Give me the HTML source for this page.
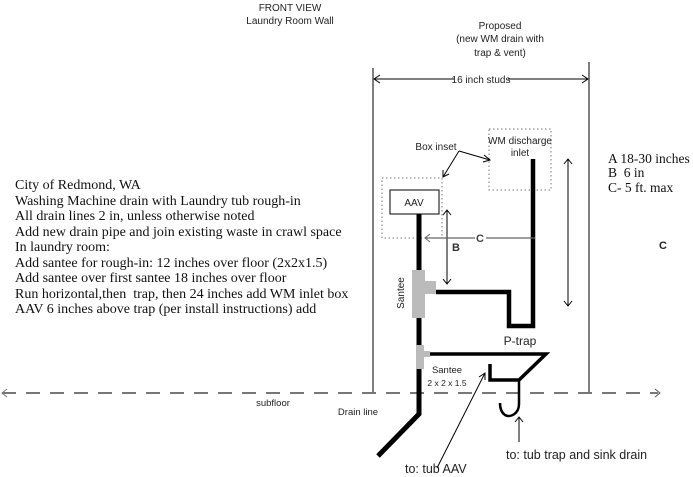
<!DOCTYPE html>
<html><head><meta charset="utf-8"><style>
html,body{margin:0;padding:0;background:#fff;}
svg{display:block;}
.s{font-family:"Liberation Sans",sans-serif;}
.r{font-family:"Liberation Serif",serif;}
</style></head><body>
<svg width="693" height="477" viewBox="0 0 693 477" xmlns="http://www.w3.org/2000/svg">
<!-- header text -->
<g class="s" font-size="10" fill="#222" text-anchor="middle">
<text x="290" y="11">FRONT VIEW</text>
<text x="290" y="24">Laundry Room Wall</text>
<text x="500" y="29">Proposed</text>
<text x="500" y="42">(new WM drain with</text>
<text x="500" y="56">trap &amp; vent)</text>
</g>
<!-- studs -->
<line x1="373" y1="68" x2="373" y2="393" stroke="#555" stroke-width="1.5"/>
<line x1="589" y1="62" x2="589" y2="393" stroke="#555" stroke-width="1.5"/>
<!-- 16 inch arrow -->
<line x1="374" y1="79" x2="588" y2="79" stroke="#000" stroke-width="1"/>
<polyline points="380,75 374,79 380,83" fill="none" stroke="#000" stroke-width="1"/>
<polyline points="582,75 588,79 582,83" fill="none" stroke="#000" stroke-width="1"/>
<rect x="454" y="72" width="54" height="13" fill="#fff"/>
<text x="481" y="83" class="s" font-size="10" fill="#222" text-anchor="middle">16 inch studs</text>
<!-- subfloor dashed -->
<line x1="2" y1="393" x2="658" y2="393" stroke="#777" stroke-width="2" stroke-dasharray="14 10"/>
<polyline points="7,389 2,393 7,397" fill="none" stroke="#777" stroke-width="1"/>
<polyline points="655,389 660,393 655,397" fill="none" stroke="#555" stroke-width="1"/>
<!-- dotted boxes -->
<rect x="382" y="178" width="60" height="60" fill="none" stroke="#777" stroke-width="1" stroke-dasharray="1.5 2.5"/>
<rect x="489" y="129" width="62" height="61" fill="none" stroke="#777" stroke-width="1" stroke-dasharray="1.5 2.5"/>
<!-- box inset label and arrows -->
<text x="436" y="150" class="s" font-size="10" fill="#222" text-anchor="middle">Box inset</text>
<line x1="459" y1="151" x2="490" y2="160" stroke="#000" stroke-width="1"/>
<polyline points="484,155 490,160 483,162" fill="none" stroke="#000" stroke-width="1"/>
<line x1="459" y1="151" x2="443" y2="177" stroke="#000" stroke-width="1"/>
<polyline points="443,170 443,177 449,174" fill="none" stroke="#000" stroke-width="1"/>
<text x="520" y="144" class="s" font-size="10" fill="#222" text-anchor="middle">WM discharge</text>
<text x="520" y="156" class="s" font-size="10" fill="#222" text-anchor="middle">inlet</text>
<!-- AAV box -->
<rect x="390" y="190" width="49" height="24" fill="#fff" stroke="#000" stroke-width="1"/>
<text x="414" y="206" class="s" font-size="10" fill="#222" text-anchor="middle">AAV</text>
<!-- main pipe -->
<polyline points="419,214 419,414 378,456" fill="none" stroke="#000" stroke-width="5"/>
<!-- WM drain pipe with P-trap -->
<polyline points="436,292 509,292 509,326 533,326 533,159" fill="none" stroke="#000" stroke-width="4.5"/>
<!-- santee 1 -->
<rect x="412" y="270" width="13" height="48" fill="#bbb"/>
<rect x="425" y="281" width="11" height="13" fill="#bbb"/>
<!-- second branch -->
<polyline points="428,354 546,354 519,380 490,380 490,364" fill="none" stroke="#000" stroke-width="3.5"/>
<path d="M519,380 L519,404 C519,414 510,418 505,415 C502,413 500,409 500,403" fill="none" stroke="#000" stroke-width="2.5"/>
<!-- santee 2 -->
<rect x="416" y="345" width="8" height="24" fill="#bbb"/>
<rect x="424" y="351" width="6" height="6" fill="#bbb"/>
<!-- B arrow -->
<line x1="447" y1="210" x2="447" y2="284" stroke="#000" stroke-width="1"/>
<polyline points="443,215 447,210 451,215" fill="none" stroke="#000" stroke-width="1"/>
<polyline points="443,279 447,284 451,279" fill="none" stroke="#000" stroke-width="1"/>
<text x="456" y="251" class="s" font-size="11" font-weight="bold" fill="#333" text-anchor="middle">B</text>
<!-- C arrow -->
<line x1="425" y1="238" x2="535" y2="238" stroke="#666" stroke-width="1.2"/>
<polyline points="430,234 425,238 430,242" fill="none" stroke="#666" stroke-width="1"/>
<rect x="475" y="232" width="11" height="12" fill="#fff"/>
<text x="480" y="242" class="s" font-size="11" font-weight="bold" fill="#444" text-anchor="middle">C</text>
<!-- A arrow -->
<line x1="568" y1="159" x2="568" y2="306" stroke="#000" stroke-width="1"/>
<polyline points="564,164 568,159 572,164" fill="none" stroke="#000" stroke-width="1"/>
<polyline points="564,301 568,306 572,301" fill="none" stroke="#000" stroke-width="1"/>
<!-- labels -->
<text transform="translate(404,293) rotate(-90)" class="s" font-size="10" fill="#222" text-anchor="middle">Santee</text>
<text x="520" y="345" class="s" font-size="12" fill="#222" text-anchor="middle">P-trap</text>
<text x="447" y="373" class="s" font-size="9.5" fill="#222" text-anchor="middle">Santee</text>
<text x="447" y="386" class="s" font-size="8.5" fill="#222" text-anchor="middle">2 x 2 x 1.5</text>
<text x="273" y="406" class="s" font-size="9.5" fill="#222" text-anchor="middle">subfloor</text>
<text x="358" y="415" class="s" font-size="9.5" fill="#222" text-anchor="middle">Drain line</text>
<!-- bottom arrows -->
<line x1="437" y1="468" x2="485" y2="373" stroke="#000" stroke-width="1"/>
<polyline points="479,377 485,373 485,380" fill="none" stroke="#000" stroke-width="1"/>
<line x1="519" y1="417" x2="519" y2="442" stroke="#000" stroke-width="1"/>
<polyline points="515,422 519,417 523,422" fill="none" stroke="#000" stroke-width="1"/>
<text x="405" y="473" class="s" font-size="12.5" fill="#222">to: tub AAV</text>
<text x="506" y="459" class="s" font-size="12.5" fill="#222">to: tub trap and sink drain</text>
<!-- left text -->
<g class="r" font-size="14" fill="#111">
<text x="15" y="189">City of Redmond, WA</text>
<text x="15" y="205">Washing Machine drain with Laundry tub rough-in</text>
<text x="15" y="220">All drain lines 2 in, unless otherwise noted</text>
<text x="15" y="236">Add new drain pipe and join existing waste in crawl space</text>
<text x="15" y="251">In laundry room:</text>
<text x="15" y="267">Add santee for rough-in: 12 inches over floor (2x2x1.5)</text>
<text x="15" y="282">Add santee over first santee 18 inches over floor</text>
<text x="15" y="298">Run horizontal,then&#160; trap, then 24 inches add WM inlet box</text>
<text x="15" y="313">AAV 6 inches above trap (per install instructions) add</text>
</g>
<!-- right text -->
<g class="r" font-size="13.5" fill="#111">
<text x="608" y="163">A 18-30 inches</text>
<text x="608" y="177">B&#160; 6 in</text>
<text x="608" y="192">C- 5 ft. max</text>
</g>
<text x="663" y="249" class="s" font-size="11" font-weight="bold" fill="#222" text-anchor="middle">C</text>
</svg>
</body></html>
